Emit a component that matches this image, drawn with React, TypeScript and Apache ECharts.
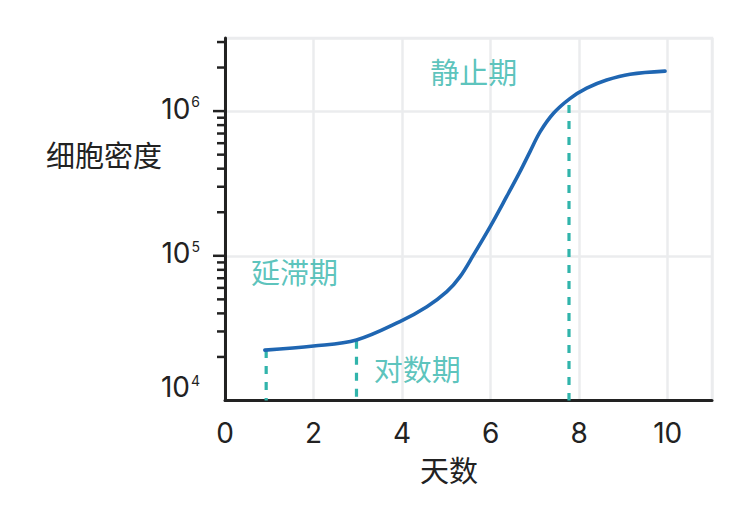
import React, { useEffect, useRef } from "react";
import * as echarts from "echarts";

const growthDays = [0.9, 2.0, 2.97, 3.95, 4.56, 5.01, 5.31, 5.61, 5.99, 6.36, 6.66, 6.89, 7.12, 7.42, 7.79, 8.17, 8.62, 9.15, 9.94];
const cellDensity = [2.23e4, 2.38e4, 2.62e4, 3.51e4, 4.45e4, 5.65e4, 7.18e4, 1.01e5, 1.59e5, 2.56e5, 3.8e5, 5.25e5, 7.21e5, 9.66e5, 1.22e6, 1.44e6, 1.64e6, 1.8e6, 1.89e6];
const phaseMarkDays = [0.93, 2.97, 7.77];
const phaseMarkDensity = [2.23e4, 2.59e4, 1.1e6];
const phaseNames = ["延滞期", "对数期", "静止期"];
const phaseLabelDays = [1.57, 4.34, 5.62];
const phaseLabelDensity = [7.85e4, 1.68e4, 1.89e6];
const majorTickValues = [1e5, 1e6];
const minorTickValues = [2e4, 3e4, 4e4, 5e4, 6e4, 7e4, 8e4, 9e4, 2e5, 3e5, 4e5, 5e5, 6e5, 7e5, 8e5, 9e5, 2e6, 3e6];
const xAxisTitle = "天数";
const yAxisTitle = "细胞密度";

const FONT = 'Inter, "Noto Sans CJK SC", sans-serif';
const CJK = '"Noto Sans CJK SC", "Noto Sans", sans-serif';
const INK = "#222222";
const TEAL = "#31b4ab";
const BLUE = "#1f66b2";
const GRIDC = "#ebecee";

export default function App() {
  const ref = useRef<HTMLDivElement>(null);
  useEffect(() => {
    if (!ref.current) return;
    const chart = echarts.init(ref.current, null, { renderer: "svg" });
    const tickSeries = (values: number[], len: number) => ({
      type: "custom",
      clip: false,
      silent: true,
      z: 5,
      encode: { x: 0, y: 1 },
      data: values.map((v) => [0, v]),
      renderItem: (_p: any, api: any) => {
        const pt = api.coord([0, api.value(1)]);
        return {
          type: "line",
          shape: { x1: pt[0] - len, y1: pt[1], x2: pt[0], y2: pt[1] },
          style: { stroke: INK, lineWidth: 2.5 },
        };
      },
    });
    const option: any = {
      animation: false,
      backgroundColor: "#ffffff",
      textStyle: { fontFamily: FONT },
      grid: {
        left: 225,
        right: 30,
        top: 38,
        bottom: 105.5,
        show: true,
        borderColor: GRIDC,
        borderWidth: 2.5,
        containLabel: false,
        outerBoundsMode: "none",
      },
      xAxis: {
        type: "value",
        min: 0,
        max: 11,
        interval: 2,
        axisLine: { show: true, onZero: false, lineStyle: { color: INK, width: 3 } },
        axisTick: { show: false },
        splitLine: { show: true, lineStyle: { color: GRIDC, width: 2.5 } },
        axisLabel: {
          fontSize: 28,
          color: INK,
          fontFamily: FONT,
          margin: 18,
          formatter: (v: number) => (v % 2 === 0 && v <= 10 ? String(v) : ""),
        },
      },
      yAxis: {
        type: "log",
        logBase: 10,
        min: 1e4,
        max: 3.2e6,
        axisLine: { show: true, lineStyle: { color: INK, width: 3 } },
        axisTick: { show: false },
        minorTick: { show: false },
        splitLine: { show: true, lineStyle: { color: GRIDC, width: 2.5 } },
        axisLabel: {
          margin: 25,
          color: INK,
          fontFamily: FONT,
          formatter: (v: number) => {
            const l = Math.log10(v);
            const r = Math.round(l);
            if (Math.abs(l - r) > 1e-6) return "";
            return r === 4 ? `{b4|10}{s|${r}}` : `{b|10}{s|${r}}`;
          },
          rich: {
            b: { fontSize: 28, padding: [0, 0, 5, 0], color: INK, fontFamily: FONT },
            b4: { fontSize: 28, padding: [0, 0, 27, 0], color: INK, fontFamily: FONT },
            s: { fontSize: 14, verticalAlign: "top", color: INK, fontFamily: FONT, padding: [0, 0, 0, 1] },
          },
        },
      },
      graphic: [
        {
          type: "text",
          x: 104,
          y: 154,
          style: { text: yAxisTitle, fontSize: 29, fill: INK, fontFamily: CJK, align: "center", verticalAlign: "middle" },
        },
        {
          type: "text",
          x: 449,
          y: 469,
          style: { text: xAxisTitle, fontSize: 29, fill: INK, fontFamily: CJK, align: "center", verticalAlign: "middle" },
        },
      ],
      series: [
        ...phaseMarkDays.map((d, i) => ({
          type: "line",
          silent: true,
          showSymbol: false,
          symbol: "none",
          z: 3,
          lineStyle: { color: TEAL, width: 3.2, type: [8, 8] },
          data: [
            [d, phaseMarkDensity[i]],
            [d, 1e4],
          ],
        })),
        {
          type: "line",
          smooth: 0.35,
          showSymbol: false,
          symbol: "none",
          z: 4,
          lineStyle: { color: BLUE, width: 3.6, cap: "round" },
          data: growthDays.map((d, i) => [d, cellDensity[i]]),
        },
        {
          type: "scatter",
          symbolSize: 1,
          silent: true,
          itemStyle: { color: "rgba(0,0,0,0)" },
          label: {
            show: true,
            position: "inside",
            fontSize: 29,
            color: TEAL,
            fontFamily: CJK,
            formatter: (p: any) => phaseNames[p.dataIndex],
          },
          data: phaseLabelDays.map((d, i) => [d, phaseLabelDensity[i]]),
        },
        tickSeries(majorTickValues, 12),
        tickSeries(minorTickValues, 8),
      ],
    };
    chart.setOption(option);
    return () => chart.dispose();
  }, []);
  return (
    <div
      ref={ref}
      style={{ position: "fixed", left: 0, top: 0, width: 742, height: 506, background: "#fff" }}
    />
  );
}
